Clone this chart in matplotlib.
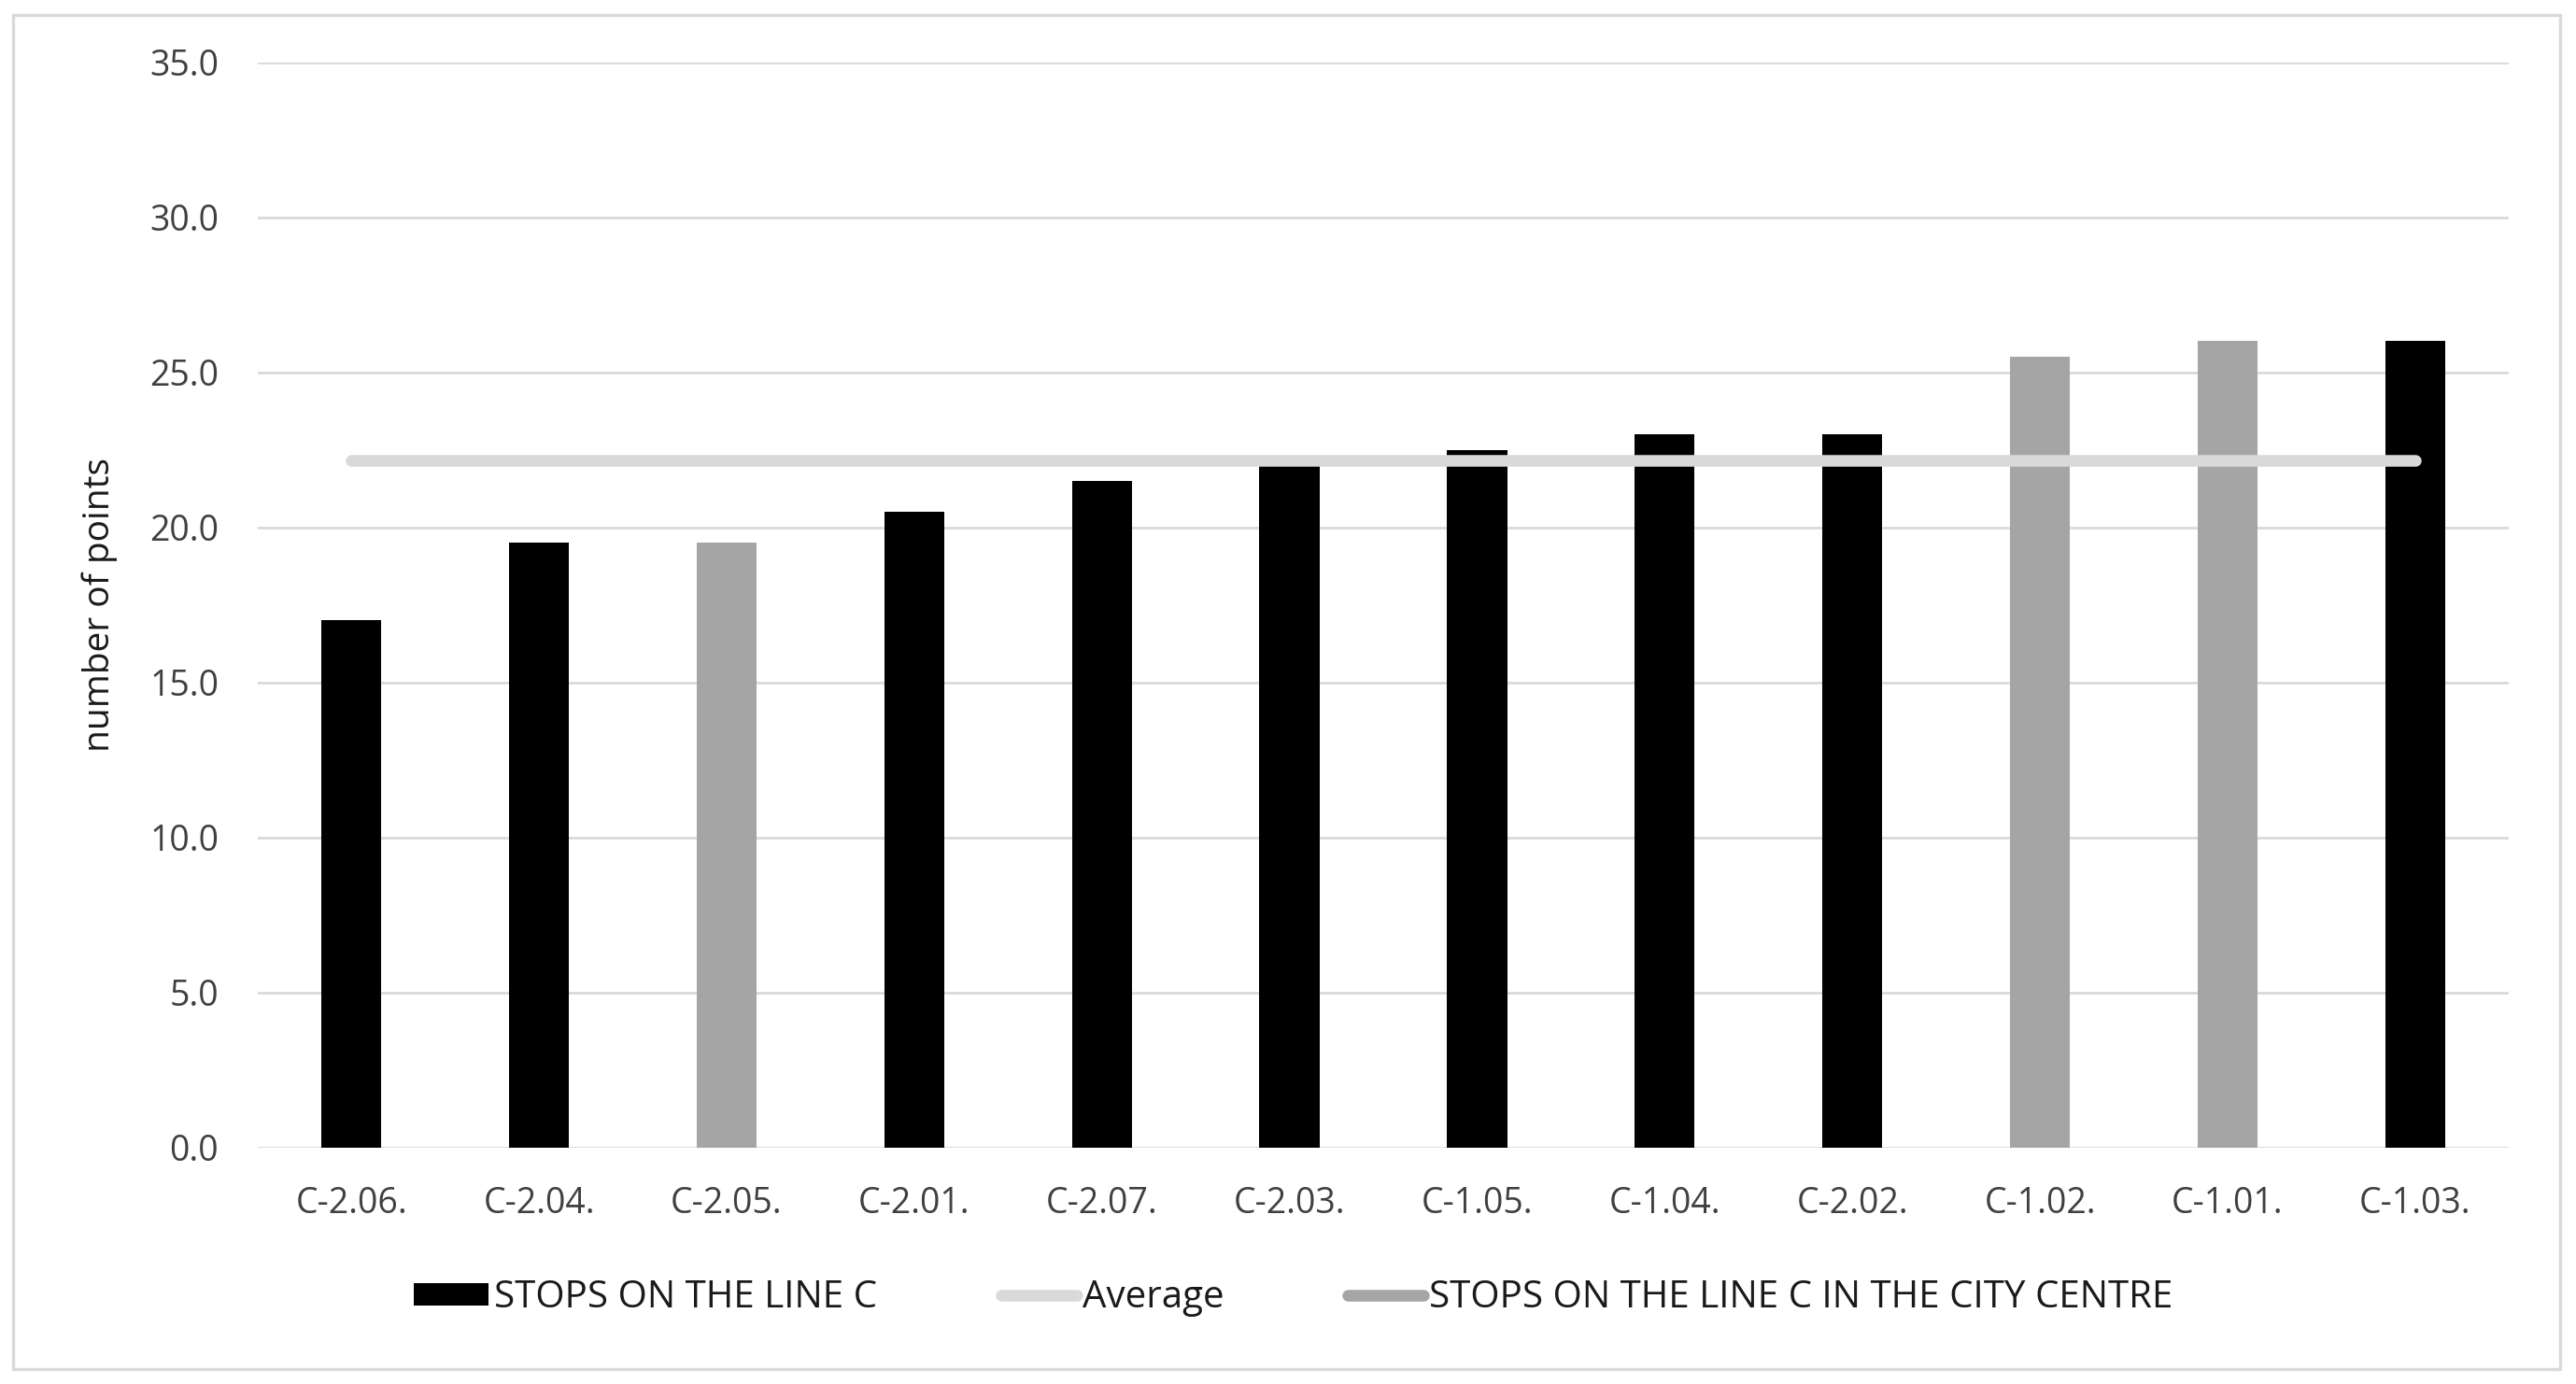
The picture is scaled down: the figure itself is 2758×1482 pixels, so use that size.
import numpy as np
import matplotlib.pyplot as plt
from matplotlib.patches import Rectangle, Patch
from matplotlib.lines import Line2D

# stops sorted by score
stops = ["C-2.06.", "C-2.04.", "C-2.05.", "C-2.01.", "C-2.07.", "C-2.03.",
         "C-1.05.", "C-1.04.", "C-2.02.", "C-1.02.", "C-1.01.", "C-1.03."]
points = [17.0, 19.5, 19.5, 20.5, 21.5, 22.0, 22.5, 23.0, 23.0, 25.5, 26.0, 26.0]
city_centre = [False, False, True, False, False, False,
               False, False, False, True, True, False]
average = [22.17] * len(stops)

y_ticks = [0, 5, 10, 15, 20, 25, 30, 35]

BLACK = "#000000"
GREY = "#a5a5a5"
LIGHT = "#d9d9d9"
TEXT = "#404040"
plt.rcParams["font.family"] = ["Open Sans", "DejaVu Sans"]

fig = plt.figure(figsize=(13.79, 7.41), dpi=200)
ax = fig.add_axes([0.100, 0.171, 0.874, 0.784])

x = np.arange(len(stops))
colors = [GREY if c else BLACK for c in city_centre]
ax.bar(x, points, width=0.32, color=colors, zorder=3)
ax.plot(x, average, color=LIGHT, lw=4.5, solid_capstyle="round", zorder=4)

ax.set_xlim(-0.5, len(stops) - 0.5)
ax.set_ylim(0, 35)
ax.set_yticks(y_ticks)
ax.set_yticklabels([f"{v:.1f}" for v in y_ticks])
ax.set_xticks(x)
ax.set_xticklabels(stops)
ax.tick_params(axis="both", length=0, labelsize=13.5, colors=TEXT)
ax.tick_params(axis="x", pad=15)
ax.tick_params(axis="y", pad=15)
ax.grid(axis="y", color=LIGHT, lw=1.0, zorder=0)
for s in ax.spines.values():
    s.set_visible(False)

ax.set_ylabel("number of points", fontsize=14, color="#1a1a1a")
ax.yaxis.set_label_coords(-0.062, 0.5)

handles = [Patch(facecolor=BLACK),
           Line2D([0], [0], color=LIGHT, lw=4.5, solid_capstyle="round"),
           Line2D([0], [0], color=GREY, lw=4.5, solid_capstyle="round")]
labels = ["STOPS ON THE LINE C", "Average", "STOPS ON THE LINE C IN THE CITY CENTRE"]
fig.legend(handles, labels, loc="center", bbox_to_anchor=(0.502, 0.062), ncol=3,
           frameon=False, prop={"size": 14.5}, labelcolor="#1a1a1a",
           handlelength=2.0, handleheight=0.55, handletextpad=0.15, columnspacing=3.3)

# outer border of the chart area
fig.patches.append(Rectangle((0.005, 0.011), 0.989, 0.978, transform=fig.transFigure,
                             fill=False, edgecolor=LIGHT, lw=1.2))

fig.savefig("out.png", dpi=200, facecolor="white")
